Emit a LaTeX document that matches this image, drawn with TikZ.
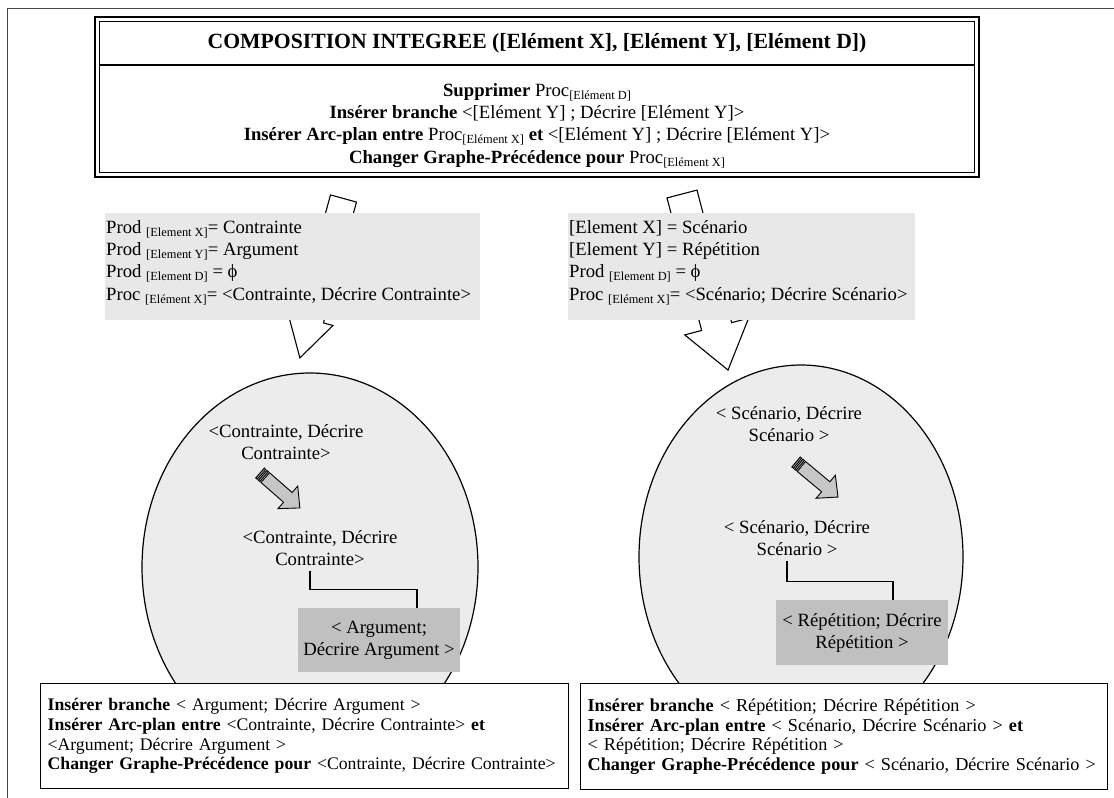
\documentclass[tikz,border=0pt]{standalone}
\usepackage{fontspec}
\setmainfont{Liberation Serif}
\usetikzlibrary{positioning}
\definecolor{lightbg}{RGB}{232,232,232}
\definecolor{circbg}{RGB}{236,236,236}
\definecolor{darkbg}{RGB}{192,192,192}
\definecolor{framegray}{RGB}{70,70,70}
\newcommand{\subtxt}[1]{\raisebox{-3pt}{\fontsize{12.4}{14}\selectfont #1}}

\tikzset{
  txt/.style={font=\fontsize{18.7}{22.3}\selectfont, inner sep=0pt},
  prodbox/.style={fill=lightbg, minimum height=107pt, anchor=north west, inner sep=0pt},
  elembox/.style={fill=darkbg, inner sep=0pt, align=center, font=\fontsize{18.7}{22}\selectfont},
  actbox/.style={draw, line width=1.3pt, fill=white, anchor=north west, align=left, inner xsep=7pt},
  blockarr/.style={draw, fill=white, line width=1.1pt},
  smallarr/.style={draw, fill=gray!45, line width=0.9pt}
}

\begin{document}
\begin{tikzpicture}[x=1pt,y=-1pt]
\useasboundingbox (0,0) rectangle (1114,798);
% frame
\draw[framegray, line width=1pt] (7,798) -- (7,8) -- (1114,8);

% big arrows
\begin{scope}[shift={(343.5,198.5)}, rotate=-105.3]
  \draw[blockarr] (0,-13.5) -- (125.3,-13.5) -- (125.3,-23.3) -- (165.3,0) -- (125.3,23.3) -- (125.3,13.5) -- (0,13.5) -- cycle;
\end{scope}
\begin{scope}[shift={(682,194)}, rotate=-75.35]
  \draw[blockarr] (0,-15.5) -- (137,-15.5) -- (137,-33) -- (182,0) -- (137,33) -- (137,15.5) -- (0,15.5) -- cycle;
\end{scope}

% composition box
\draw[line width=2.4pt] (95,17) rectangle (979,177);
\draw[line width=1.2pt] (99.5,21.5) rectangle (974.5,172.5);
\draw[line width=1.2pt] (99.5,65) -- (974.5,65);
\node[txt, anchor=base, font=\fontsize{21.7}{24}\selectfont\bfseries] (title) at (537,48.5)
  {COMPOSITION INTEGREE ([Elément X], [Elément Y], [Elément D])};
\node[txt, anchor=north, align=center] (rules) at (537,83)
  {\textbf{Supprimer} Proc\subtxt{[Elément D]}\\
   \textbf{Insérer branche} <[Elément Y] ; Décrire [Elément Y]>\\
   \textbf{Insérer Arc-plan entre} Proc\subtxt{[Elément X]} \textbf{et} <[Elément Y] ; Décrire [Elément Y]>\\
   \textbf{Changer Graphe-Précédence pour} Proc\subtxt{[Elément X]}};

% bindings
\node[prodbox, minimum width=375pt] (lbg) at (105,213) {};
\node[txt, anchor=north west, align=left] (lprod) at ([xshift=1pt,yshift=-7pt]lbg.north west)
  {Prod \subtxt{[Element X]}= Contrainte\\
   Prod \subtxt{[Element Y]}= Argument\\
   Prod \subtxt{[Element D]} = ϕ\\
   Proc \subtxt{[Elément X]}= <Contrainte, Décrire Contrainte>};
\node[prodbox, minimum width=347pt] (rbg) at (568,213) {};
\node[txt, anchor=north west, align=left] (rprod) at ([xshift=1pt,yshift=-7pt]rbg.north west)
  {{}[Element X] = Scénario\\{}[Element Y] = Répétition\\
   Prod \subtxt{[Element D]} = ϕ\\
   Proc \subtxt{[Elément X]}= <Scénario; Décrire Scénario>};

% circles
\draw[fill=circbg, line width=1.2pt] (310,567) ellipse [x radius=168, y radius=194];
\draw[fill=circbg, line width=1.2pt] (801,557) ellipse [x radius=162, y radius=192];

% left circle
\node[txt, align=center] (lc1) at (286,442) {<Contrainte, Décrire\\Contrainte>};
\node[txt, align=center] (lc2) at (320,548) {<Contrainte, Décrire\\Contrainte>};
\node[elembox, minimum width=162pt, minimum height=64pt] (larg) at (379,640) {< Argument;\\Décrire Argument >};
\draw[line width=1.2pt] ([xshift=-10pt,yshift=-5pt]lc2.south) |- ([xshift=38pt,yshift=18pt]larg.north) -- ([xshift=38pt]larg.north);
\begin{scope}[shift={(260,473)}, rotate=-41.2]
  \draw[smallarr, fill=gray!80] (0,-6.5) rectangle (2,6.5);
  \draw[smallarr, fill=gray!80] (3.5,-6.5) rectangle (5.5,6.5);
  \draw[smallarr] (7,-6.5) -- (37,-6.5) -- (37,-15) -- (53,0) -- (37,15) -- (37,6.5) -- (7,6.5) -- cycle;
\end{scope}

% right circle
\node[txt, align=center] (rc1) at (789,424) {< Scénario, Décrire\\Scénario >};
\node[txt, align=center] (rc2) at (797,538) {< Scénario, Décrire\\Scénario >};
\node[elembox, minimum width=172pt, minimum height=65pt] (rrep) at (862,632.5) {< Répétition; Décrire\\Répétition >};
\draw[line width=1.2pt] ([xshift=-10pt,yshift=-5pt]rc2.south) |- ([xshift=31pt,yshift=18pt]rrep.north) -- ([xshift=31pt]rrep.north);
\begin{scope}[shift={(796,462)}, rotate=-39.8]
  \draw[smallarr, fill=gray!80] (0,-6.5) rectangle (2,6.5);
  \draw[smallarr, fill=gray!80] (3.5,-6.5) rectangle (5.5,6.5);
  \draw[smallarr] (7,-6.5) -- (38.7,-6.5) -- (38.7,-15) -- (54.7,0) -- (38.7,15) -- (38.7,6.5) -- (7,6.5) -- cycle;
\end{scope}

% actions
\node[actbox, text width=514pt, minimum height=105pt, font=\fontsize{17.7}{19.7}\selectfont] (lact) at (40,683)
  {\textbf{Insérer branche} < Argument; Décrire Argument >\\
   \textbf{Insérer Arc-plan entre} <Contrainte, Décrire Contrainte> \textbf{et}\\
   <Argument; Décrire Argument >\\
   \textbf{Changer Graphe-Précédence pour} <Contrainte, Décrire Contrainte>};
\node[actbox, text width=513pt, minimum height=106pt, font=\fontsize{18.2}{19.7}\selectfont] (ract) at (580,683)
  {\textbf{Insérer branche} < Répétition; Décrire Répétition >\\
   \textbf{Insérer Arc-plan entre} < Scénario, Décrire Scénario > \textbf{et}\\
   < Répétition; Décrire Répétition >\\
   \textbf{Changer Graphe-Précédence pour} < Scénario, Décrire Scénario >};
\end{tikzpicture}
\end{document}
